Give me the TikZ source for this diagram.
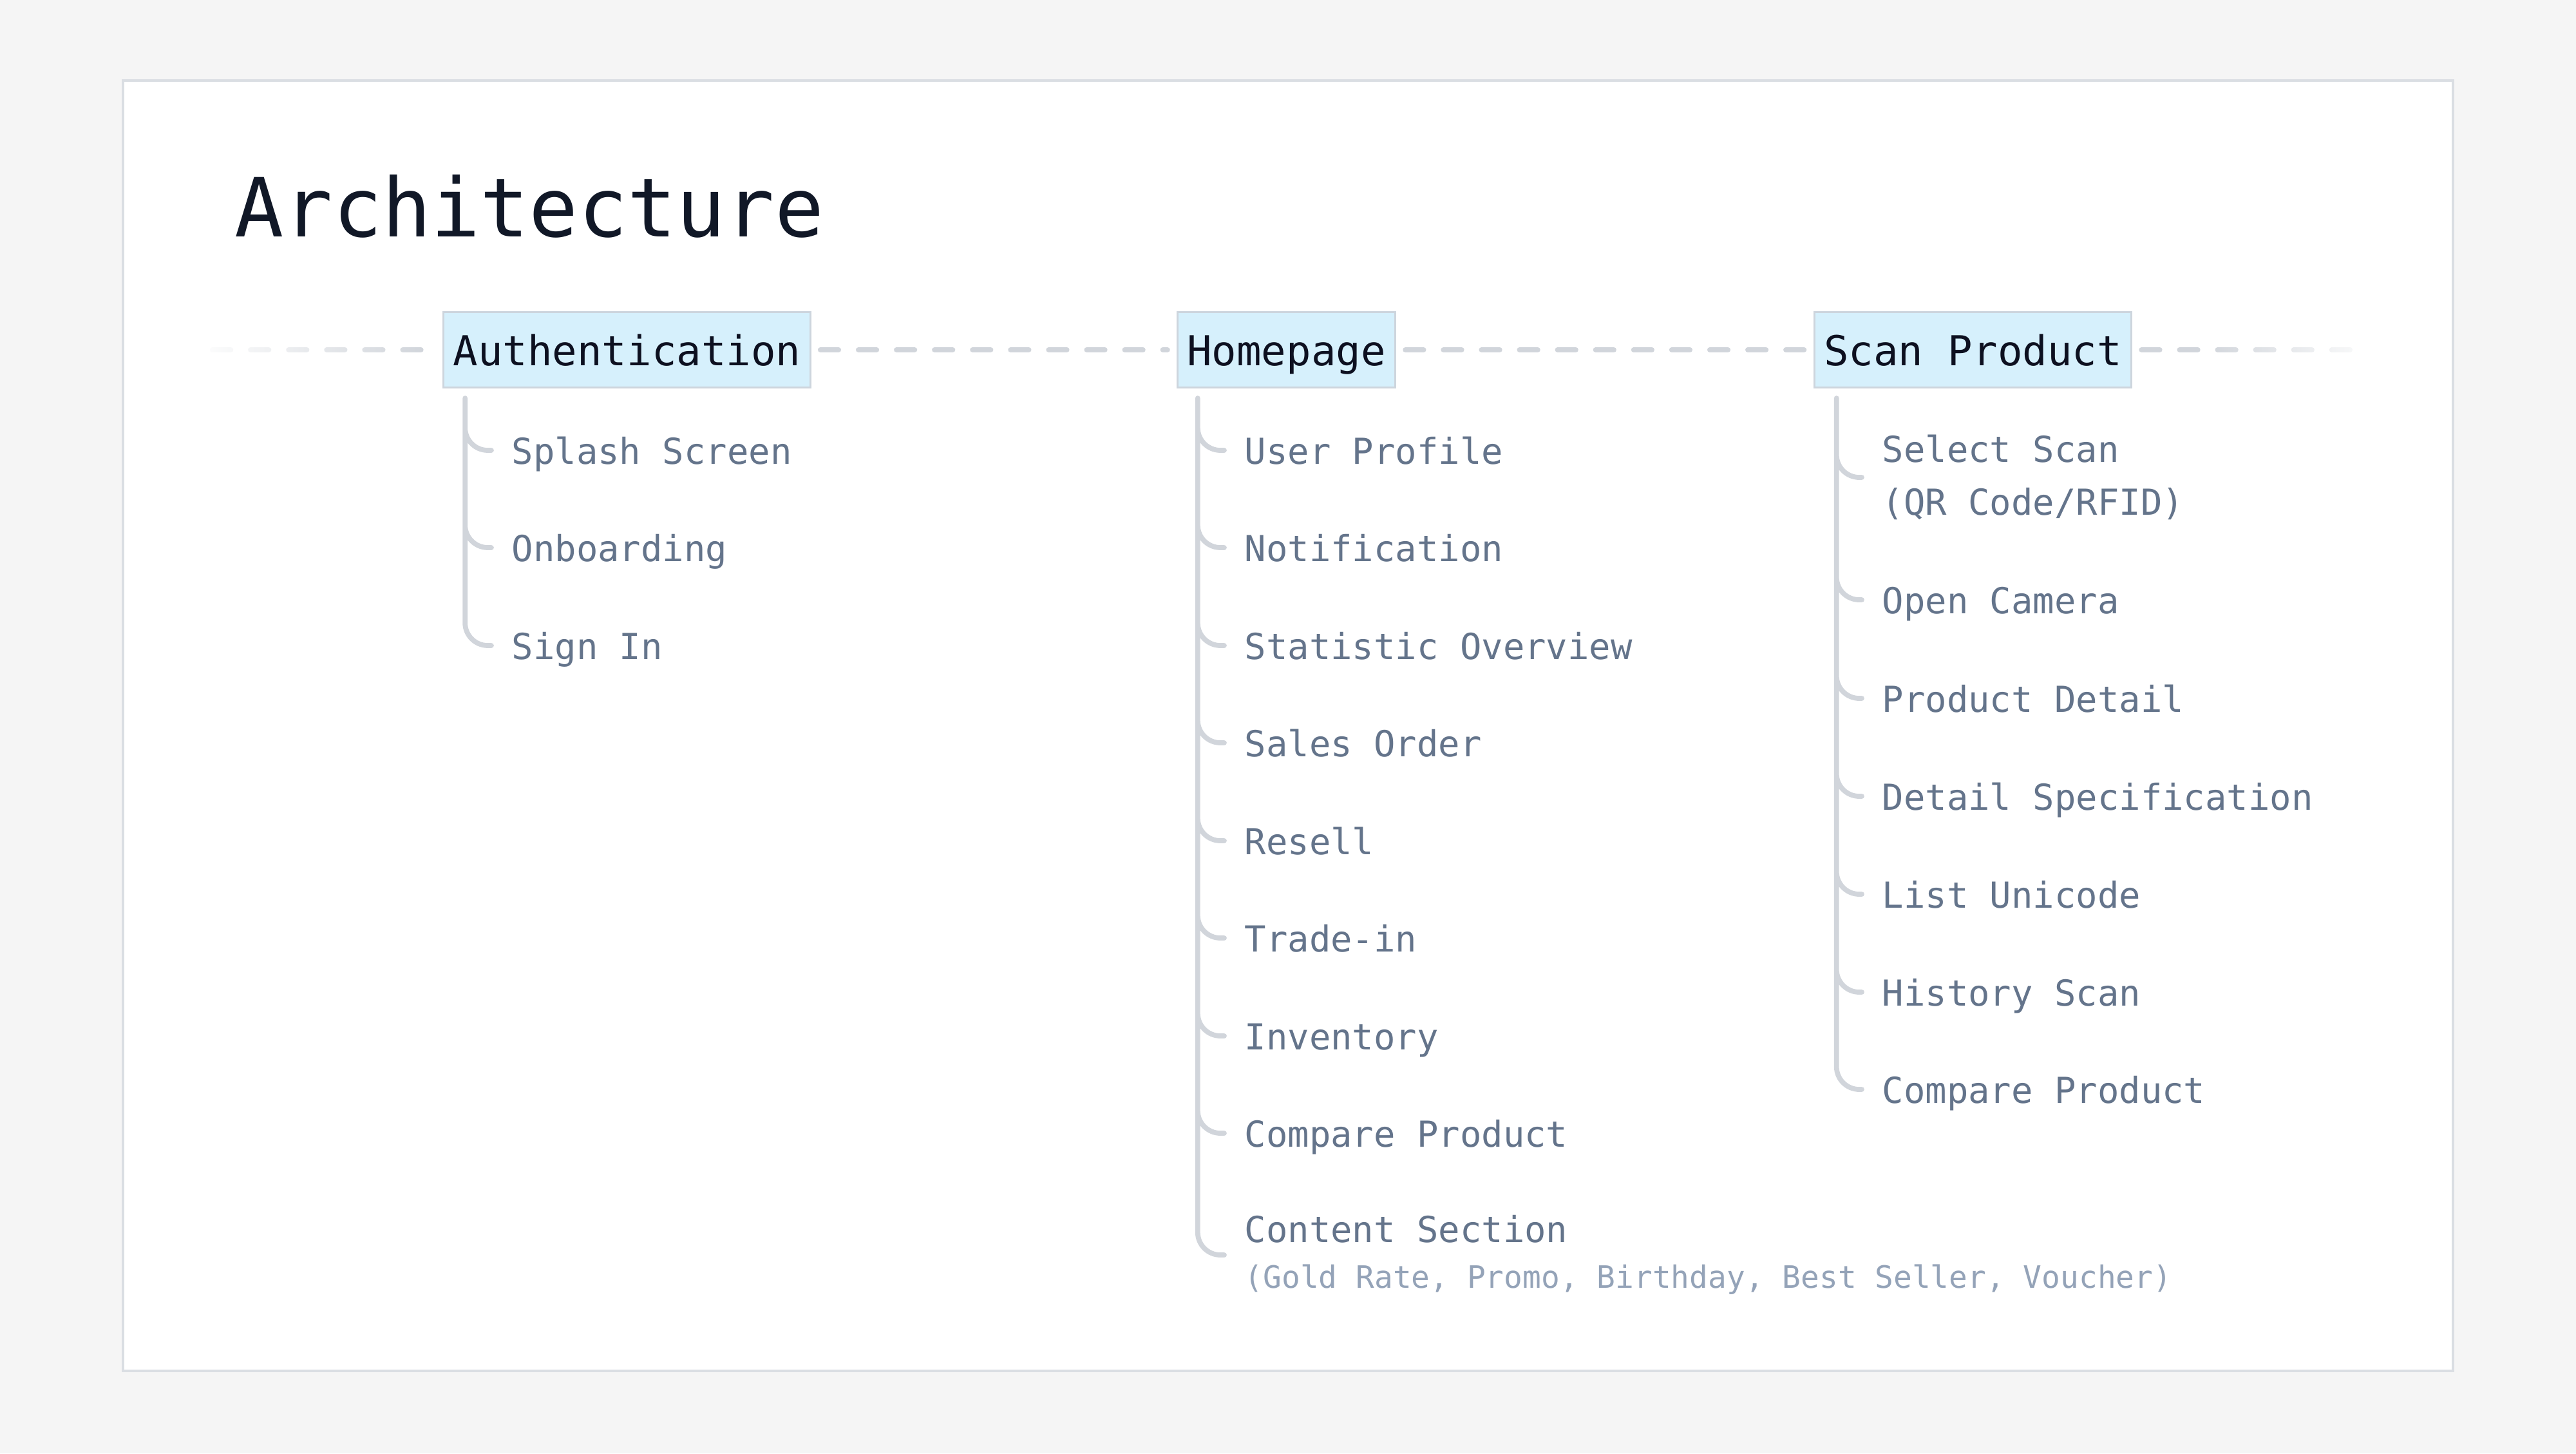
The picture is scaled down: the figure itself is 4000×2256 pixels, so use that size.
\documentclass[tikz,border=0pt]{standalone}
\usepackage{fontspec}
\setmainfont{DejaVu Sans Mono}
\usetikzlibrary{fadings}
\definecolor{pagebg}{HTML}{F5F5F5}
\definecolor{cardline}{HTML}{DADEE3}
\definecolor{titlecol}{HTML}{111827}
\definecolor{hdrfill}{HTML}{D6F0FC}
\definecolor{hdrline}{HTML}{CDD5DD}
\definecolor{hdrtext}{HTML}{0D1020}
\definecolor{itemcol}{HTML}{64748B}
\definecolor{subcol}{HTML}{94A3B8}
\definecolor{linecol}{HTML}{D1D5DB}
\newcommand\itemfont{\fontsize{15.8pt}{23.3pt}\selectfont}
\newcommand\subnotefont{\fontsize{13.6pt}{16pt}\selectfont\color{subcol}}
\tikzfading[name=fadeleft, left color=transparent!0, right color=transparent!100]
\tikzfading[name=faderight, left color=transparent!100, right color=transparent!0]
\begin{document}
\begin{tikzpicture}[x=0.01cm, y=-0.01cm,
  hdr/.style={draw=hdrline,line width=0.85pt,fill=hdrfill,text=hdrtext,font=\fontsize{18.2pt}{22pt}\selectfont,
    inner xsep=4.3pt,minimum height=33.3pt,text height=15pt,text depth=0.8pt},
  item/.style={anchor=west,text=itemcol,font=\itemfont,inner xsep=8.8pt,inner ysep=0pt,text height=13pt,text depth=1pt},
  multi/.style={align=left,text height={},text depth={}},
  dashline/.style={draw=linecol,line width=2.3pt,line cap=round,dash pattern=on 8pt off 8.8pt,shorten <=4pt,shorten >=4pt},
  branch/.style={draw=linecol,line width=2.2pt,line cap=round,rounded corners=10pt}]
% page and card
\fill[pagebg] (0,0) rectangle (4000,2256);
\draw[cardline,line width=1pt,fill=white] (191,125) rectangle (3809,2128);
\node[anchor=base west,inner sep=0pt,text=titlecol,font=\fontsize{36pt}{40pt}\selectfont] (ttl) at (364,367) {Architecture};
% top level
\coordinate (lstart) at (316,543);
\coordinate (rend) at (3682,543);
\node[hdr] (auth) at (973.5,543) {Authentication};
\node[hdr] (home) at (1997.5,543) {Homepage};
\node[hdr] (scan) at (3063.5,543) {Scan Product};
\draw[dashline] (lstart) -- (auth);
\draw[dashline] (auth) -- (home);
\draw[dashline] (home) -- (scan);
\draw[dashline] (scan) -- (rend);
\fill[white,path fading=fadeleft] (300,510) rectangle (660,576);
\fill[white,path fading=faderight] (3420,510) rectangle (3700,576);
% authentication
\coordinate (authtop) at ([xshift=0.35cm,yshift=-0.15cm]auth.south west);
\node[item] (splash) at (763,699) {Splash Screen};
\node[item] (onboard) at (763,850) {Onboarding};
\node[item] (signin) at (763,1002) {Sign In};
\draw[branch] (authtop) |- (splash.west) (authtop) |- (onboard.west) (authtop) |- (signin.west);
% homepage
\coordinate (hometop) at ([xshift=0.33cm,yshift=-0.15cm]home.south west);
\node[item] (profile) at (1901,699) {User Profile};
\node[item] (notif) at (1901,850) {Notification};
\node[item] (stats) at (1901,1002) {Statistic Overview};
\node[item] (sales) at (1901,1153) {Sales Order};
\node[item] (resell) at (1901,1305) {Resell};
\node[item] (trade) at (1901,1456) {Trade-in};
\node[item] (invent) at (1901,1608) {Inventory};
\node[item] (cmphome) at (1901,1759) {Compare Product};
\node[item,multi] (content) at (1901,1948) {Content Section\\[-3.1pt]{\subnotefont(Gold Rate, Promo, Birthday, Best Seller, Voucher)}};
\draw[branch] (hometop) |- (profile.west) (hometop) |- (notif.west) (hometop) |- (stats.west)
  (hometop) |- (sales.west) (hometop) |- (resell.west) (hometop) |- (trade.west)
  (hometop) |- (invent.west) (hometop) |- (cmphome.west) (hometop) |- (content.west);
% scan product
\coordinate (scantop) at ([xshift=0.36cm,yshift=-0.15cm]scan.south west);
\node[item,multi] (select) at (2891,741) {Select Scan\\(QR Code/RFID)};
\node[item] (camera) at (2891,931) {Open Camera};
\node[item] (detail) at (2891,1084) {Product Detail};
\node[item] (spec) at (2891,1236) {Detail Specification};
\node[item] (unicode) at (2891,1388) {List Unicode};
\node[item] (history) at (2891,1540) {History Scan};
\node[item] (cmpscan) at (2891,1691) {Compare Product};
\draw[branch] (scantop) |- (select.west) (scantop) |- (camera.west) (scantop) |- (detail.west)
  (scantop) |- (spec.west) (scantop) |- (unicode.west) (scantop) |- (history.west) (scantop) |- (cmpscan.west);
\end{tikzpicture}
\end{document}
